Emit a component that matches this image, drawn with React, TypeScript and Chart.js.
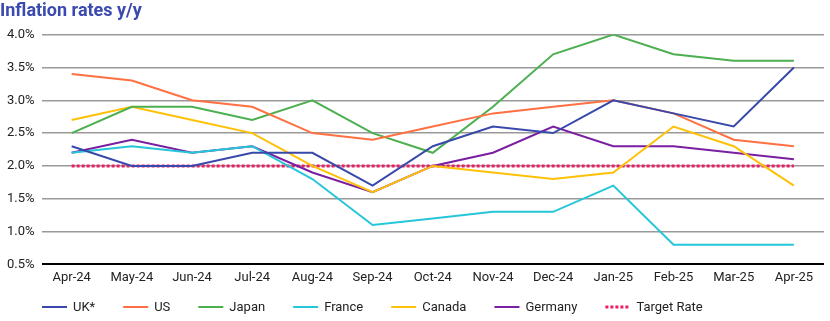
import React, { useEffect, useRef } from "react";
import { Chart, registerables } from "chart.js";

Chart.register(...registerables);

const months = ["Apr-24","May-24","Jun-24","Jul-24","Aug-24","Sep-24","Oct-24","Nov-24","Dec-24","Jan-25","Feb-25","Mar-25","Apr-25"];
const uk = [2.3,2.0,2.0,2.2,2.2,1.7,2.3,2.6,2.5,3.0,2.8,2.6,3.5];
const us = [3.4,3.3,3.0,2.9,2.5,2.4,2.6,2.8,2.9,3.0,2.8,2.4,2.3];
const japan = [2.5,2.9,2.9,2.7,3.0,2.5,2.2,2.9,3.7,4.0,3.7,3.6,3.6];
const france = [2.2,2.3,2.2,2.3,1.8,1.1,1.2,1.3,1.3,1.7,0.8,0.8,0.8];
const canada = [2.7,2.9,2.7,2.5,2.0,1.6,2.0,1.9,1.8,1.9,2.6,2.3,1.7];
const germany = [2.2,2.4,2.2,2.3,1.9,1.6,2.0,2.2,2.6,2.3,2.3,2.2,2.1];
const target = [2.0,2.0,2.0,2.0,2.0,2.0,2.0,2.0,2.0,2.0,2.0,2.0,2.0];

const FONT = "Roboto, 'Noto Sans', sans-serif";

// Custom bottom legend drawn on the chart canvas
const bottomLegend = {
  id: "bottomLegend",
  afterDraw(chart: any) {
    const ctx = chart.ctx as CanvasRenderingContext2D;
    const y = 307;
    let x = 42;
    const lineLen = 25;
    const gap = 6;
    const itemGap = 28;
    ctx.save();
    ctx.font = `13px ${FONT}`;
    ctx.textBaseline = "middle";
    ctx.textAlign = "left";
    chart.data.datasets.forEach((ds: any) => {
      ctx.save();
      ctx.strokeStyle = ds.borderColor;
      ctx.lineWidth = ds.borderWidth;
      ctx.setLineDash(ds.borderDash || []);
      ctx.beginPath();
      ctx.moveTo(x, y);
      ctx.lineTo(x + lineLen, y);
      ctx.stroke();
      ctx.restore();
      ctx.fillStyle = "#222";
      const tx = x + lineLen + gap;
      ctx.fillText(ds.label, tx, y + 0.5);
      x = tx + ctx.measureText(ds.label).width + itemGap;
    });
    ctx.restore();
  },
};

export default function App() {
  const ref = useRef<HTMLCanvasElement>(null);
  useEffect(() => {
    document.body.style.margin = "0";
    const line = (label: string, data: number[], color: string, extra: any = {}) => ({
      label, data, borderColor: color, backgroundColor: color, borderWidth: 2,
      pointRadius: 0, tension: 0, fill: false, ...extra,
    });
    const chart = new Chart(ref.current!, {
      type: "line",
      data: {
        labels: months,
        datasets: [
          line("UK*", uk, "#3949AB"),
          line("US", us, "#FF7043"),
          line("Japan", japan, "#4CAF50"),
          line("France", france, "#26C6DA"),
          line("Canada", canada, "#FFC107"),
          line("Germany", germany, "#7B1FA2"),
          line("Target Rate", target, "#E91E63", { borderDash: [3, 2], borderWidth: 3 }),
        ],
      },
      options: {
        animation: false,
        responsive: false,
        maintainAspectRatio: false,
        layout: { padding: { left: 0, right: 6, top: 0, bottom: 29 } },
        plugins: {
          title: {
            display: true, text: "Inflation rates y/y", align: "start", color: "#3A4AAE",
            font: { family: FONT, size: 18, weight: "bold" }, padding: { top: 1, bottom: 12 },
          },
          legend: { display: false },
          tooltip: { enabled: false },
        },
        scales: {
          x: {
            offset: true,
            grid: { display: false, drawTicks: false },
            border: { display: false },
            ticks: { color: "#222", font: { family: FONT, size: 13 }, maxRotation: 0, autoSkip: false, padding: 6 },
          },
          y: {
            min: 0.5, max: 4.0,
            border: { display: false },
            grid: {
              color: (c: any) => (c.tick && c.tick.value === 0.5 ? "#000" : "#999"),
              lineWidth: (c: any) => (c.tick && c.tick.value === 0.5 ? 2 : 1.5),
              drawTicks: false,
            },
            ticks: {
              stepSize: 0.5, color: "#222", font: { family: FONT, size: 13 }, padding: 7,
              callback: (v: any) => Number(v).toFixed(1) + "%",
            },
          },
        },
      },
      plugins: [bottomLegend],
    });
    return () => chart.destroy();
  }, []);
  return <canvas ref={ref} width={830} height={321} style={{ display: "block" }} />;
}
